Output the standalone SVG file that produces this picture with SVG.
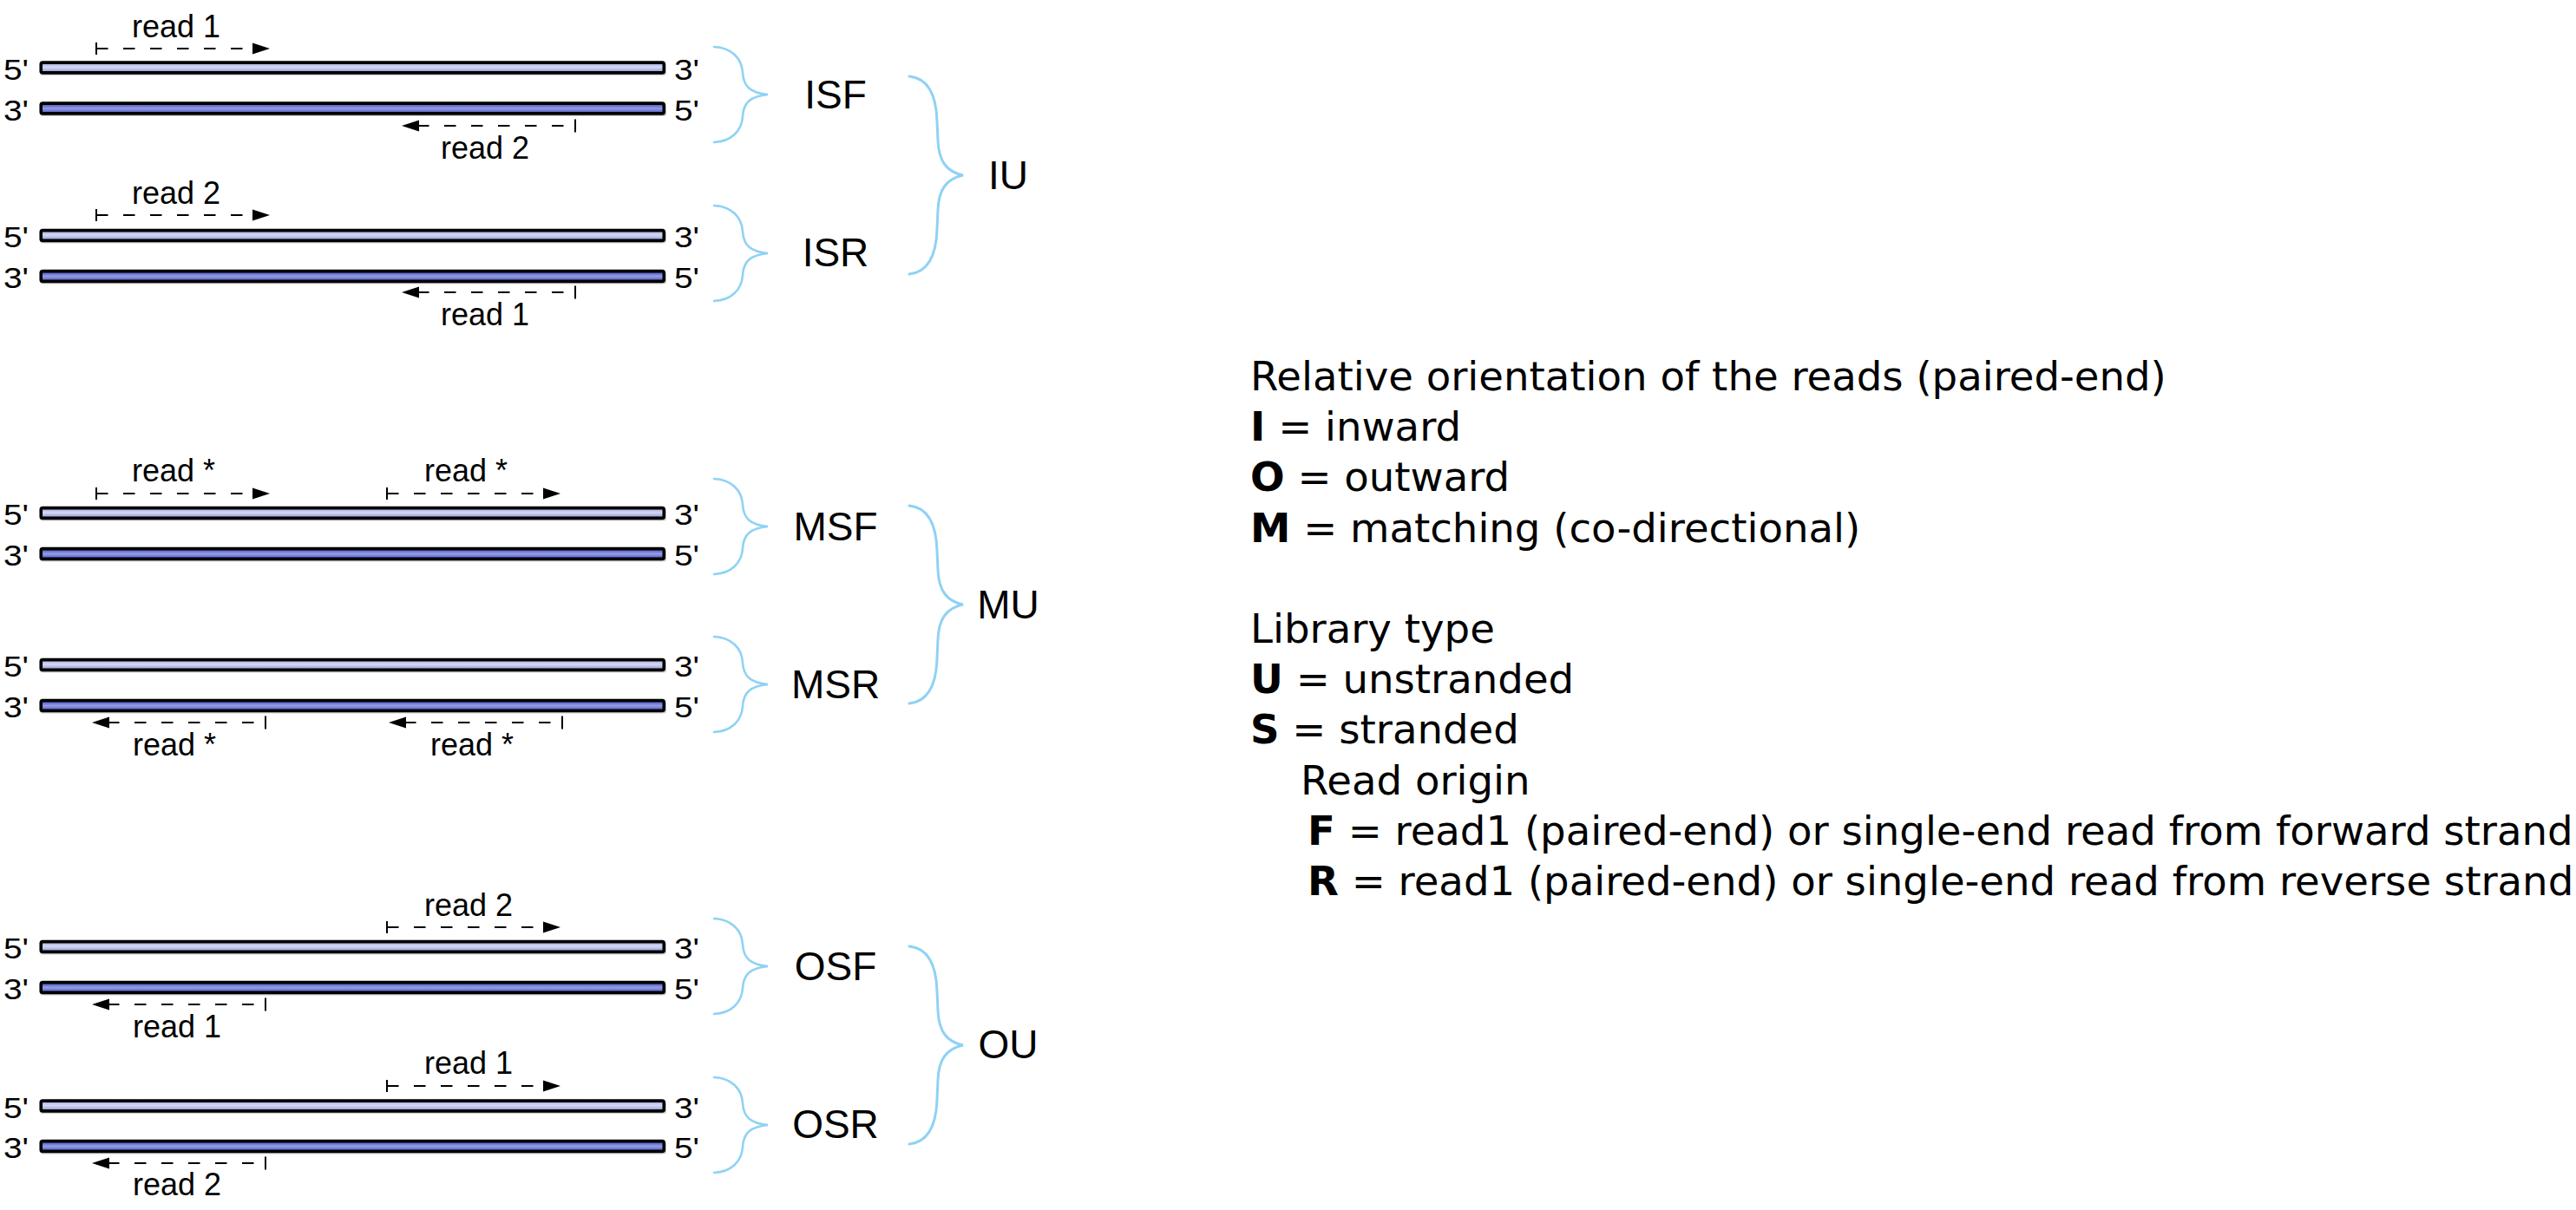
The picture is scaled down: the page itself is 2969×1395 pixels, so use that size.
<svg xmlns="http://www.w3.org/2000/svg" xmlns:xlink="http://www.w3.org/1999/xlink" width="2969" height="1395" viewBox="0 0 2969 1395">
<style>
.lbl{font-family:"Liberation Sans",Arial,Helvetica,sans-serif;fill:#000}
.end{font-size:34px}
.rd{font-size:36px}
.typ{font-size:46px;text-anchor:middle}
.leg{font-family:"DejaVu Sans","Noto Sans",sans-serif;font-size:46.6px;fill:#000}
.b{font-weight:bold}
.dash{stroke:#000;stroke-width:2;stroke-dasharray:13.5 17.5;fill:none}
.tick{stroke:#000;stroke-width:2;fill:none}
.head{fill:#000}
.brace{fill:none;stroke:#8fd2f4;stroke-width:2.6;stroke-linecap:round}
.bigbrace{fill:none;stroke:#8fd2f4;stroke-width:3;stroke-linecap:round}
.sh{fill:none;stroke:#cfcfcf;stroke-width:2}
</style>
<defs>
<linearGradient id="gL" x1="0" y1="0" x2="0" y2="1">
<stop offset="0" stop-color="#9aa2de"/>
<stop offset="0.45" stop-color="#d6d9f3"/>
<stop offset="1" stop-color="#868fd5"/>
</linearGradient>
<linearGradient id="gD" x1="0" y1="0" x2="0" y2="1">
<stop offset="0" stop-color="#3b48bd"/>
<stop offset="0.5" stop-color="#959de3"/>
<stop offset="1" stop-color="#4652c2"/>
</linearGradient>
<g id="strandL">
<rect class="sh" x="47" y="-4" width="720" height="12" rx="2"/>
<rect x="47.25" y="-5.9" width="718" height="11.8" rx="2" fill="url(#gL)" stroke="#000" stroke-width="3.6"/>
</g>
<g id="strandD">
<rect class="sh" x="47" y="-4" width="720" height="12" rx="2"/>
<rect x="47.25" y="-5.9" width="718" height="11.8" rx="2" fill="url(#gD)" stroke="#000" stroke-width="3.6"/>
</g>
<g id="fwd">
<line class="tick" x1="0" y1="-7" x2="0" y2="7"/>
<line class="dash" x1="0" y1="0" x2="180" y2="0"/>
<polygon class="head" points="180,-6.5 200,0 180,6.5"/>
</g>
<g id="rev">
<polygon class="head" points="20,-6.5 0,0 20,6.5"/>
<line class="dash" x1="18" y1="0" x2="200" y2="0"/>
<line class="tick" x1="200" y1="-7.5" x2="200" y2="7.5"/>
</g>
<path id="sbrace" class="brace" d="M823,-55 C843,-54 855,-42 856,-25 C857,-9 865,-2 885,0 C865,2 857,9 856,25 C855,42 843,54 823,55"/>
<path id="bbrace" class="bigbrace" d="M1048,-114 C1068,-112 1079,-96 1080,-62 L1081,-40 C1082,-16 1091,-4 1110,0 C1091,4 1082,16 1081,40 L1080,62 C1079,96 1068,112 1048,114"/>
</defs>

<g id="ISF">
<use xlink:href="#strandL" href="#strandL" y="78"/>
<use xlink:href="#strandD" href="#strandD" y="125"/>
<text class="lbl end" x="4" y="91.5" textLength="29" lengthAdjust="spacingAndGlyphs">5'</text>
<text class="lbl end" x="4" y="138.5" textLength="29" lengthAdjust="spacingAndGlyphs">3'</text>
<text class="lbl end" x="777" y="91.5" textLength="29" lengthAdjust="spacingAndGlyphs">3'</text>
<text class="lbl end" x="777" y="138.5" textLength="29" lengthAdjust="spacingAndGlyphs">5'</text>
<use xlink:href="#fwd" href="#fwd" x="111" y="56"/>
<text class="lbl rd" x="152" y="43">read 1</text>
<use xlink:href="#rev" href="#rev" x="463" y="145"/>
<text class="lbl rd" x="508" y="183">read 2</text>
<text class="lbl typ" x="963" y="125">ISF</text>
</g>

<g id="ISR">
<use xlink:href="#strandL" href="#strandL" y="271.5"/>
<use xlink:href="#strandD" href="#strandD" y="318.5"/>
<text class="lbl end" x="4" y="285" textLength="29" lengthAdjust="spacingAndGlyphs">5'</text>
<text class="lbl end" x="4" y="332" textLength="29" lengthAdjust="spacingAndGlyphs">3'</text>
<text class="lbl end" x="777" y="285" textLength="29" lengthAdjust="spacingAndGlyphs">3'</text>
<text class="lbl end" x="777" y="332" textLength="29" lengthAdjust="spacingAndGlyphs">5'</text>
<use xlink:href="#fwd" href="#fwd" x="111" y="248"/>
<text class="lbl rd" x="152" y="235">read 2</text>
<use xlink:href="#rev" href="#rev" x="463" y="337"/>
<text class="lbl rd" x="508" y="375">read 1</text>
<text class="lbl typ" x="963" y="307">ISR</text>
</g>

<g id="MSF">
<use xlink:href="#strandL" href="#strandL" y="591.5"/>
<use xlink:href="#strandD" href="#strandD" y="638.5"/>
<text class="lbl end" x="4" y="605" textLength="29" lengthAdjust="spacingAndGlyphs">5'</text>
<text class="lbl end" x="4" y="652" textLength="29" lengthAdjust="spacingAndGlyphs">3'</text>
<text class="lbl end" x="777" y="605" textLength="29" lengthAdjust="spacingAndGlyphs">3'</text>
<text class="lbl end" x="777" y="652" textLength="29" lengthAdjust="spacingAndGlyphs">5'</text>
<use xlink:href="#fwd" href="#fwd" x="111" y="569"/>
<text class="lbl rd" x="152" y="555">read *</text>
<use xlink:href="#fwd" href="#fwd" x="446" y="569"/>
<text class="lbl rd" x="489" y="555">read *</text>
<text class="lbl typ" x="963" y="623">MSF</text>
</g>

<g id="MSR">
<use xlink:href="#strandL" href="#strandL" y="766.5"/>
<use xlink:href="#strandD" href="#strandD" y="813.5"/>
<text class="lbl end" x="4" y="780" textLength="29" lengthAdjust="spacingAndGlyphs">5'</text>
<text class="lbl end" x="4" y="827" textLength="29" lengthAdjust="spacingAndGlyphs">3'</text>
<text class="lbl end" x="777" y="780" textLength="29" lengthAdjust="spacingAndGlyphs">3'</text>
<text class="lbl end" x="777" y="827" textLength="29" lengthAdjust="spacingAndGlyphs">5'</text>
<use xlink:href="#rev" href="#rev" x="106" y="833"/>
<text class="lbl rd" x="153" y="871">read *</text>
<use xlink:href="#rev" href="#rev" x="448" y="833"/>
<text class="lbl rd" x="496" y="871">read *</text>
<text class="lbl typ" x="963" y="805">MSR</text>
</g>

<g id="OSF">
<use xlink:href="#strandL" href="#strandL" y="1091.5"/>
<use xlink:href="#strandD" href="#strandD" y="1138.5"/>
<text class="lbl end" x="4" y="1105" textLength="29" lengthAdjust="spacingAndGlyphs">5'</text>
<text class="lbl end" x="4" y="1152" textLength="29" lengthAdjust="spacingAndGlyphs">3'</text>
<text class="lbl end" x="777" y="1105" textLength="29" lengthAdjust="spacingAndGlyphs">3'</text>
<text class="lbl end" x="777" y="1152" textLength="29" lengthAdjust="spacingAndGlyphs">5'</text>
<use xlink:href="#fwd" href="#fwd" x="446" y="1069"/>
<text class="lbl rd" x="489" y="1056">read 2</text>
<use xlink:href="#rev" href="#rev" x="106" y="1158"/>
<text class="lbl rd" x="153" y="1196">read 1</text>
<text class="lbl typ" x="963" y="1130">OSF</text>
</g>

<g id="OSR">
<use xlink:href="#strandL" href="#strandL" y="1275"/>
<use xlink:href="#strandD" href="#strandD" y="1321.5"/>
<text class="lbl end" x="4" y="1288.5" textLength="29" lengthAdjust="spacingAndGlyphs">5'</text>
<text class="lbl end" x="4" y="1335" textLength="29" lengthAdjust="spacingAndGlyphs">3'</text>
<text class="lbl end" x="777" y="1288.5" textLength="29" lengthAdjust="spacingAndGlyphs">3'</text>
<text class="lbl end" x="777" y="1335" textLength="29" lengthAdjust="spacingAndGlyphs">5'</text>
<use xlink:href="#fwd" href="#fwd" x="446" y="1252"/>
<text class="lbl rd" x="489" y="1238">read 1</text>
<use xlink:href="#rev" href="#rev" x="106" y="1341"/>
<text class="lbl rd" x="153" y="1378">read 2</text>
<text class="lbl typ" x="963" y="1312">OSR</text>
</g>

<g id="IU"><text class="lbl typ" x="1162" y="218">IU</text></g>
<g id="MU"><text class="lbl typ" x="1162" y="713">MU</text></g>
<g id="OU"><text class="lbl typ" x="1162" y="1220">OU</text></g>

<g id="connectors">
<use xlink:href="#sbrace" href="#sbrace" y="109"/>
<use xlink:href="#sbrace" href="#sbrace" y="292"/>
<use xlink:href="#sbrace" href="#sbrace" y="607"/>
<use xlink:href="#sbrace" href="#sbrace" y="789"/>
<use xlink:href="#sbrace" href="#sbrace" y="1114"/>
<use xlink:href="#sbrace" href="#sbrace" y="1297"/>
<use xlink:href="#bbrace" href="#bbrace" y="202"/>
<use xlink:href="#bbrace" href="#bbrace" y="697"/>
<use xlink:href="#bbrace" href="#bbrace" y="1205"/>
</g>

<g id="legend">
<text class="leg" x="1441" y="450">Relative orientation of the reads (paired-end)</text>
<text class="leg" x="1441" y="508.2"><tspan class="b">I</tspan> = inward</text>
<text class="leg" x="1441" y="566.4"><tspan class="b">O</tspan> = outward</text>
<text class="leg" x="1441" y="624.6"><tspan class="b">M</tspan> = matching (co-directional)</text>
<text class="leg" x="1441" y="741">Library type</text>
<text class="leg" x="1441" y="799.2"><tspan class="b">U</tspan> = unstranded</text>
<text class="leg" x="1441" y="857.4"><tspan class="b">S</tspan> = stranded</text>
<text class="leg" x="1499" y="915.6">Read origin</text>
<text class="leg" x="1507" y="973.8"><tspan class="b">F</tspan> = read1 (paired-end) or single-end read from forward strand</text>
<text class="leg" x="1507" y="1032"><tspan class="b">R</tspan> = read1 (paired-end) or single-end read from reverse strand</text>
</g>
</svg>
